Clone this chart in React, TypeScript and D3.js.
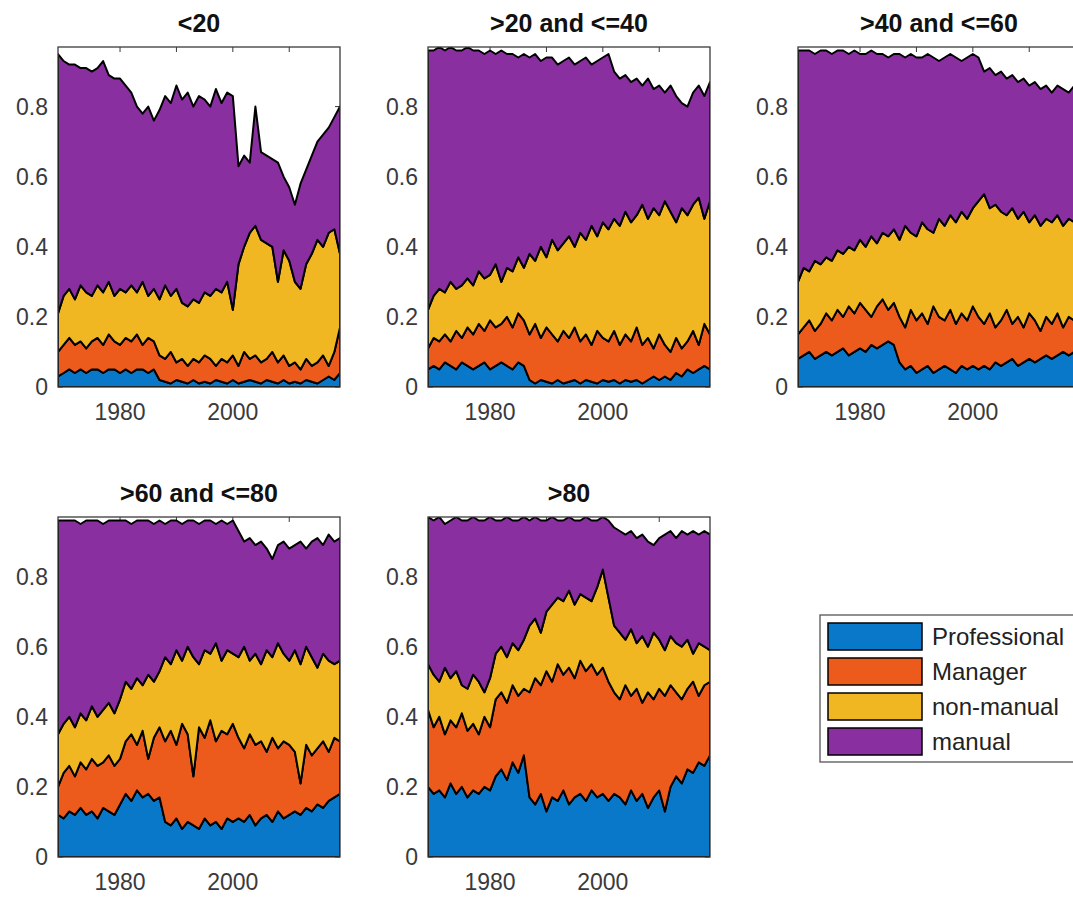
import React from 'react';
import * as d3 from 'd3';

const years = [
  1969, 1970, 1971, 1972, 1973, 1974, 1975, 1976, 1977, 1978, 1979, 1980, 1981, 1982, 1983, 1984, 1985, 1986,
  1987, 1988, 1989, 1990, 1991, 1992, 1993, 1994, 1995, 1996, 1997, 1998, 1999, 2000,
  2001, 2002, 2003, 2004, 2005, 2006, 2007, 2008, 2009, 2010,
  2011, 2012, 2013, 2014, 2015, 2016, 2017, 2018, 2019,
];

const seriesNames = ['Professional', 'Manager', 'non-manual', 'manual'];
const seriesColors = ['#0a78c8', '#ec5b1c', '#f1b722', '#8a2f9f'];
const panelTitles = ['<20', '>20 and <=40', '>40 and <=60', '>60 and <=80', '>80'];
const xTickValues = [1980, 1990, 2000, 2010];
const xTickLabels = ['1980', '', '2000', ''];
const yTickValues = [0, 0.2, 0.4, 0.6, 0.8];
const yTickLabels = ['0', '0.2', '0.4', '0.6', '0.8'];

// ---- <20 ----
const profLt20 = [
  .03, .04, .05, .04, .05, .04, .05, .05, .04, .05, .05, .04, .05, .04, .05, .05, .04, .05,
  .02, .015, .01, .02, .015, .01, .02, .01, .015, .01, .02, .015, .01, .02,
  .01, .015, .02, .015, .01, .02, .015, .01, .02, .01,
  .015, .01, .02, .015, .01, .02, .03, .02, .04,
];
const mgrLt20 = [
  .07, .08, .09, .08, .08, .07, .08, .09, .08, .10, .08, .08, .09, .09, .10, .07, .10, .08,
  .07, .065, .09, .05, .065, .05, .06, .06, .075, .07, .04, .065, .06, .07,
  .05, .085, .06, .075, .06, .06, .085, .06, .07, .05,
  .055, .04, .06, .045, .06, .07, .03, .08, .13,
];
const nonManLt20 = [
  .11, .14, .14, .13, .16, .16, .13, .15, .15, .15, .13, .16, .13, .16, .12, .18, .12, .15,
  .16, .21, .16, .21, .16, .17, .17, .17, .18, .18, .22, .19, .23, .13,
  .29, .30, .36, .37, .35, .33, .30, .23, .30, .30,
  .23, .23, .27, .32, .35, .31, .38, .35, .21,
];
const manLt20 = [
  .74, .67, .64, .67, .62, .64, .64, .62, .66, .59, .62, .60, .59, .55, .53, .48, .54, .48,
  .54, .54, .55, .58, .58, .61, .55, .59, .55, .54, .57, .54, .54, .61,
  .28, .26, .20, .34, .25, .25, .25, .34, .21, .21,
  .22, .30, .27, .28, .28, .32, .30, .32, .42,
];

// ---- >20 and <=40 ----
const prof20to40 = [
  .05, .06, .05, .07, .06, .05, .07, .06, .05, .06, .07, .05, .06, .07, .06, .05, .07, .06,
  .02, .01, .02, .015, .01, .02, .01, .015, .02, .01, .02, .015, .01, .02,
  .015, .02, .01, .02, .015, .02, .01, .02, .03, .02,
  .03, .02, .04, .03, .05, .04, .05, .06, .05,
];
const mgr20to40 = [
  .06, .08, .08, .08, .07, .11, .07, .11, .10, .12, .09, .14, .11, .11, .14, .12, .14, .13,
  .13, .17, .12, .155, .14, .11, .15, .125, .15, .12, .13, .105, .15, .12,
  .115, .14, .11, .13, .115, .15, .11, .12, .08, .13,
  .09, .08, .10, .08, .08, .12, .07, .12, .10,
];
const nonMan20to40 = [
  .11, .12, .15, .12, .17, .12, .15, .14, .14, .15, .15, .13, .18, .12, .14, .16, .16, .15,
  .23, .18, .26, .20, .27, .26, .25, .29, .23, .31, .27, .34, .27, .33,
  .32, .32, .34, .35, .34, .32, .40, .34, .40, .34,
  .41, .40, .33, .40, .36, .36, .42, .30, .38,
];
const man20to40 = [
  .74, .70, .69, .69, .67, .68, .67, .66, .67, .63, .64, .64, .60, .66, .61, .62, .57, .61,
  .56, .59, .53, .57, .52, .53, .52, .51, .52, .49, .52, .46, .50, .47,
  .50, .42, .42, .39, .40, .39, .34, .40, .34, .37,
  .31, .36, .36, .30, .31, .32, .32, .35, .34,
];

// ---- >40 and <=60 ----
const prof40to60 = [
  .08, .09, .10, .08, .09, .10, .09, .10, .11, .09, .10, .11, .10, .12, .11, .12, .13, .12,
  .07, .05, .06, .04, .05, .06, .04, .05, .06, .05, .04, .06, .05, .06,
  .05, .06, .05, .07, .06, .07, .08, .06, .07, .08,
  .07, .08, .09, .08, .09, .10, .09, .10, .11,
];
const mgr40to60 = [
  .07, .08, .09, .08, .09, .11, .10, .12, .09, .14, .11, .13, .12, .08, .12, .13, .09, .12,
  .13, .12, .16, .15, .16, .12, .19, .15, .13, .17, .14, .15, .14, .17,
  .15, .12, .16, .10, .13, .15, .10, .14, .10, .13,
  .12, .08, .11, .10, .12, .07, .11, .09, .07,
];
const nonMan40to60 = [
  .15, .17, .14, .20, .17, .16, .17, .17, .18, .17, .18, .18, .18, .23, .18, .19, .21, .21,
  .22, .29, .22, .24, .26, .27, .21, .28, .27, .27, .29, .29, .29, .28,
  .33, .37, .30, .35, .31, .27, .33, .28, .33, .26,
  .30, .30, .28, .29, .28, .29, .28, .28, .30,
];
const man40to60 = [
  .66, .62, .63, .59, .61, .59, .59, .57, .58, .55, .57, .53, .55, .53, .54, .51, .51, .50,
  .53, .48, .51, .51, .47, .50, .50, .45, .48, .46, .47, .43, .46, .44,
  .41, .35, .40, .37, .40, .39, .38, .39, .38, .39,
  .38, .39, .38, .37, .37, .39, .36, .39, .37,
];

// ---- >60 and <=80 ----
const prof60to80 = [
  .12, .11, .13, .12, .14, .12, .13, .11, .14, .13, .12, .15, .18, .16, .19, .17, .18, .16,
  .17, .10, .09, .11, .08, .10, .09, .08, .11, .09, .10, .08, .11, .10,
  .11, .10, .12, .09, .11, .12, .10, .13, .11, .12,
  .13, .12, .14, .13, .15, .14, .16, .17, .18,
];
const mgr60to80 = [
  .08, .13, .13, .11, .13, .13, .15, .15, .13, .16, .14, .13, .15, .19, .13, .19, .10, .18,
  .20, .23, .27, .21, .30, .25, .14, .29, .23, .30, .23, .28, .24, .28,
  .23, .21, .23, .23, .22, .18, .24, .18, .22, .20,
  .17, .09, .18, .16, .16, .19, .14, .17, .15,
];
const nonMan60to80 = [
  .15, .14, .14, .14, .14, .14, .15, .14, .15, .15, .15, .17, .17, .13, .19, .13, .24, .16,
  .16, .24, .19, .27, .18, .25, .34, .18, .25, .19, .28, .20, .24, .20,
  .23, .29, .21, .26, .22, .29, .23, .30, .25, .24,
  .29, .34, .28, .28, .23, .25, .26, .21, .23,
];
const man60to80 = [
  .61, .58, .56, .59, .54, .57, .53, .56, .53, .52, .55, .51, .46, .47, .45, .47, .44, .45,
  .43, .38, .41, .37, .39, .36, .39, .40, .37, .38, .34, .40, .36, .38,
  .36, .30, .35, .31, .35, .29, .28, .28, .32, .32,
  .30, .35, .28, .33, .37, .31, .36, .35, .35,
];

// ---- >80 ----
const profGt80 = [
  .20, .18, .19, .17, .21, .18, .20, .17, .19, .18, .20, .19, .23, .25, .22, .27, .24, .29,
  .17, .15, .18, .13, .17, .16, .19, .15, .17, .18, .16, .19, .17, .18,
  .16, .18, .17, .15, .19, .16, .18, .14, .17, .19,
  .13, .20, .23, .21, .25, .24, .27, .26, .29,
];
const mgrGt80 = [
  .22, .19, .21, .18, .18, .19, .21, .19, .19, .17, .20, .18, .22, .22, .22, .22, .22, .19,
  .30, .36, .31, .40, .33, .39, .33, .39, .34, .38, .37, .36, .35, .36,
  .34, .29, .28, .34, .27, .32, .26, .33, .28, .29,
  .33, .29, .24, .24, .23, .26, .19, .23, .21,
];
const nonManGt80 = [
  .13, .15, .10, .19, .12, .16, .08, .12, .14, .15, .07, .14, .13, .13, .13, .12, .13, .14,
  .19, .17, .15, .17, .22, .19, .21, .22, .21, .19, .21, .18, .25, .28,
  .24, .19, .19, .13, .19, .13, .19, .13, .19, .14,
  .13, .14, .14, .15, .14, .08, .15, .11, .09,
];
const manGt80 = [
  .42, .44, .47, .41, .45, .44, .47, .48, .45, .46, .49, .46, .38, .36, .40, .35, .37, .35,
  .30, .29, .32, .26, .25, .22, .23, .21, .24, .21, .23, .23, .19, .15,
  .22, .28, .29, .30, .28, .30, .29, .30, .25, .29,
  .33, .30, .30, .33, .30, .35, .31, .33, .33,
];

const panelSeries = [
  [profLt20, mgrLt20, nonManLt20, manLt20],
  [prof20to40, mgr20to40, nonMan20to40, man20to40],
  [prof40to60, mgr40to60, nonMan40to60, man40to60],
  [prof60to80, mgr60to80, nonMan60to80, man60to80],
  [profGt80, mgrGt80, nonManGt80, manGt80],
];

const FONT = '"Liberation Sans", Arial, Helvetica, sans-serif';
const PANEL_W = 282;
const PANEL_H = 340;
const colLeft = [58, 428, 798];
const rowTop = [47, 517];
const keys = ['s0', 's1', 's2', 's3'];

function Panel({ idx }: { idx: number }) {
  const col = idx % 3;
  const row = Math.floor(idx / 3);
  const x0 = colLeft[col];
  const y0 = rowTop[row];
  const xs = d3.scaleLinear().domain([1969, 2019]).range([x0, x0 + PANEL_W]);
  const ys = d3.scaleLinear().domain([0, 0.97]).range([y0 + PANEL_H, y0]);
  const series = panelSeries[idx];
  const rows = years.map((yr, i) => ({
    year: yr,
    s0: series[0][i],
    s1: series[1][i],
    s2: series[2][i],
    s3: series[3][i],
  }));
  const stacked = d3.stack<any>().keys(keys)(rows);
  const area = d3
    .area<any>()
    .x((d) => xs(d.data.year))
    .y0((d) => ys(d[0]))
    .y1((d) => ys(d[1]));
  const clipId = `clip-${idx}`;
  const tickLen = 5;
  const axisColor = '#3a3a3a';
  return (
    <g>
      <defs>
        <clipPath id={clipId}>
          <rect x={x0} y={y0} width={PANEL_W} height={PANEL_H} />
        </clipPath>
      </defs>
      <rect x={x0} y={y0} width={PANEL_W} height={PANEL_H} fill="#fff" />
      {xTickValues.map((t) => (
        <g key={'xt' + t}>
          <line x1={xs(t)} x2={xs(t)} y1={y0} y2={y0 + tickLen} stroke={axisColor} strokeWidth={1} />
          <line x1={xs(t)} x2={xs(t)} y1={y0 + PANEL_H} y2={y0 + PANEL_H - tickLen} stroke={axisColor} strokeWidth={1} />
        </g>
      ))}
      {yTickValues.map((t) => (
        <g key={'yt' + t}>
          <line x1={x0} x2={x0 + tickLen} y1={ys(t)} y2={ys(t)} stroke={axisColor} strokeWidth={1} />
          <line x1={x0 + PANEL_W} x2={x0 + PANEL_W - tickLen} y1={ys(t)} y2={ys(t)} stroke={axisColor} strokeWidth={1} />
        </g>
      ))}
      <g clipPath={`url(#${clipId})`}>
        {stacked.map((layer, i) => (
          <path
            key={i}
            d={area(layer as any) || ''}
            fill={seriesColors[i]}
            stroke="#000"
            strokeWidth={2}
            strokeLinejoin="round"
          />
        ))}
      </g>
      <rect x={x0} y={y0} width={PANEL_W} height={PANEL_H} fill="none" stroke={axisColor} strokeWidth={1.3} />
      {yTickValues.map((t, i) => (
        <text
          key={'yl' + t}
          x={x0 - 10}
          y={ys(t)}
          dy="0.36em"
          textAnchor="end"
          fontFamily={FONT}
          fontSize={23}
          fill="#3a3a3a"
        >
          {yTickLabels[i]}
        </text>
      ))}
      {xTickValues.map((t, i) =>
        xTickLabels[i] ? (
          <text
            key={'xl' + t}
            x={xs(t)}
            y={y0 + PANEL_H + 33}
            textAnchor="middle"
            fontFamily={FONT}
            fontSize={23}
            fill="#3a3a3a"
          >
            {xTickLabels[i]}
          </text>
        ) : null
      )}
      <text
        x={x0 + PANEL_W / 2}
        y={y0 - 15}
        textAnchor="middle"
        fontFamily={FONT}
        fontSize={25}
        fontWeight="bold"
        fill="#111"
      >
        {panelTitles[idx]}
      </text>
    </g>
  );
}

function Legend() {
  const lx = 820;
  const ly = 615;
  return (
    <g>
      <rect x={lx} y={ly} width={270} height={147} fill="#fff" stroke="#555" strokeWidth={1.3} />
      {seriesNames.map((name, i) => (
        <g key={name}>
          <rect
            x={lx + 8}
            y={ly + 8 + i * 35}
            width={94}
            height={27}
            fill={seriesColors[i]}
            stroke="#000"
            strokeWidth={1.5}
          />
          <text
            x={lx + 112}
            y={ly + 8 + i * 35 + 13.5}
            dy="0.36em"
            fontFamily={FONT}
            fontSize={24}
            fill="#222"
          >
            {name}
          </text>
        </g>
      ))}
    </g>
  );
}

export default function App() {
  return (
    <svg
      width={1073}
      height={898}
      viewBox="0 0 1073 898"
      style={{ position: 'absolute', left: 0, top: 0, background: '#fff' }}
    >
      <rect x={0} y={0} width={1073} height={898} fill="#fff" />
      {panelTitles.map((_, i) => (
        <Panel key={i} idx={i} />
      ))}
      <Legend />
    </svg>
  );
}
